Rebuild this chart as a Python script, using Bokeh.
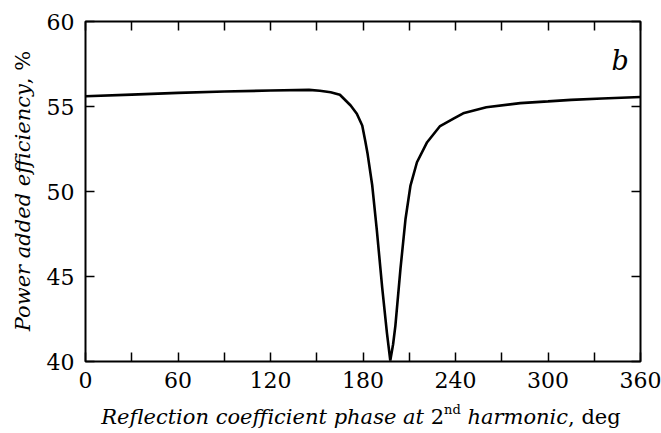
from bokeh.plotting import figure
from bokeh.models import (Range1d, LinearAxis, FixedTicker, Label, Div,
                          CustomLabelingPolicy)
from bokeh.layouts import row, column
from bokeh.embed import file_html
from bokeh.resources import INLINE

# ---------------- data ----------------
phase_deg = [0, 30, 60, 90, 120, 145, 152, 159, 165, 172, 176, 179.5, 181.5,
             183, 186, 189, 192.5, 195.5, 197.7, 199.5, 201, 204.3, 207.6,
             210.8, 215, 221.6, 230, 239, 245, 260, 282, 300, 315, 335, 360]
pae_pct = [55.60, 55.70, 55.80, 55.88, 55.94, 55.98, 55.93, 55.84, 55.69,
           55.06, 54.57, 53.88, 52.95, 52.20, 50.35, 47.70, 44.30, 41.70,
           40.05, 41.00, 42.10, 45.45, 48.40, 50.35, 51.72, 52.90, 53.85,
           54.30, 54.60, 54.96, 55.20, 55.30, 55.39, 55.47, 55.56]

x_major_ticks = [0, 60, 120, 180, 240, 300, 360]
x_minor_ticks = [30, 90, 150, 210, 270, 330]
y_major_ticks = [40, 45, 50, 55, 60]

x_title_main = "Reflection coefficient phase at"
x_title_num = "2"
x_title_sup = "nd"
x_title_tail = "harmonic"
x_title_unit = ", deg"
y_title_main = "Power added efficiency"
y_title_unit = ", %"
panel_letter = "b"

SERIF = "DejaVu Serif"
SERIF_CSS = "'DejaVu Serif', serif"
TICK_PX = 22
TITLE_PX = 21

# ---------------- figure ----------------
p = figure(width=621, height=403, output_backend="svg", toolbar_location=None,
           x_range=Range1d(0, 360), y_range=Range1d(40, 60),
           x_axis_type=None, y_axis_type=None,
           min_border_left=45, min_border_right=21,
           min_border_top=21, min_border_bottom=42)
p.xgrid.visible = False
p.ygrid.visible = False
p.outline_line_color = "black"
p.outline_line_width = 2
p.background_fill_color = "white"
p.border_fill_color = "white"

hide_all = CustomLabelingPolicy(code="""
for (const i of indices) { indices.unset(i) }
return indices
""")


def make_axis(ticker, show_labels, standoff):
    ax = LinearAxis(ticker=ticker)
    ax.axis_line_color = None
    ax.major_tick_in = 9
    ax.major_tick_out = 0
    ax.minor_tick_in = 9
    ax.minor_tick_out = 0
    ax.major_tick_line_color = "black"
    ax.minor_tick_line_color = "black"
    ax.major_tick_line_width = 1.5
    ax.minor_tick_line_width = 1.5
    ax.major_label_text_font = SERIF
    ax.major_label_text_color = "black"
    if show_labels:
        ax.major_label_text_font_size = "%gpx" % TICK_PX
        ax.major_label_standoff = standoff
    else:
        ax.major_label_text_font_size = "0px"
        ax.major_label_standoff = 0
        ax.major_label_policy = hide_all
    return ax


x_ticker = FixedTicker(ticks=x_major_ticks, minor_ticks=x_minor_ticks)
y_ticker = FixedTicker(ticks=y_major_ticks, minor_ticks=[])

p.add_layout(make_axis(x_ticker, True, 10), "below")
p.add_layout(make_axis(x_ticker, False, 0), "above")
p.add_layout(make_axis(y_ticker, True, 11), "left")
p.add_layout(make_axis(y_ticker, False, 0), "right")

p.line(phase_deg, pae_pct, line_color="black", line_width=2.6)

# panel letter
p.add_layout(Label(x=526, y=301, x_units="screen", y_units="screen",
                   text=panel_letter, text_font=SERIF, text_font_style="italic",
                   text_font_size="27px", text_color="black",
                   text_align="left", text_baseline="alphabetic"))

# ---------------- axis titles (rich text) ----------------
font_css = "font-family:%s; font-size:%gpx; color:black;" % (SERIF_CSS, TITLE_PX)

x_html = (
    '<div style="width:621px; box-sizing:border-box; padding-left:21px; '
    'text-align:center; white-space:nowrap; line-height:29px; %s">'
    '<i>%s</i> %s<span style="position:relative; top:-10px; font-size:13px;">%s</span>'
    ' <i>%s</i>%s</div>'
) % (font_css, x_title_main, x_title_num, x_title_sup, x_title_tail, x_title_unit)

YL = 380
y_html = (
    '<div style="width:%dpx; height:30px; line-height:30px; text-align:center; '
    'white-space:nowrap; transform-origin:0 0; '
    'transform:translate(8px, %dpx) rotate(-90deg); %s">'
    '<i>%s</i>%s</div>'
) % (YL, 191 + YL // 2, font_css, y_title_main, y_title_unit)

x_div = Div(text=x_html, width=621, height=30, margin=0)
y_div = Div(text=y_html, width=40, height=433, margin=0)

layout = row(y_div, column(p, x_div, spacing=0), spacing=0)

open("out.html", "w").write(file_html(layout, INLINE))
